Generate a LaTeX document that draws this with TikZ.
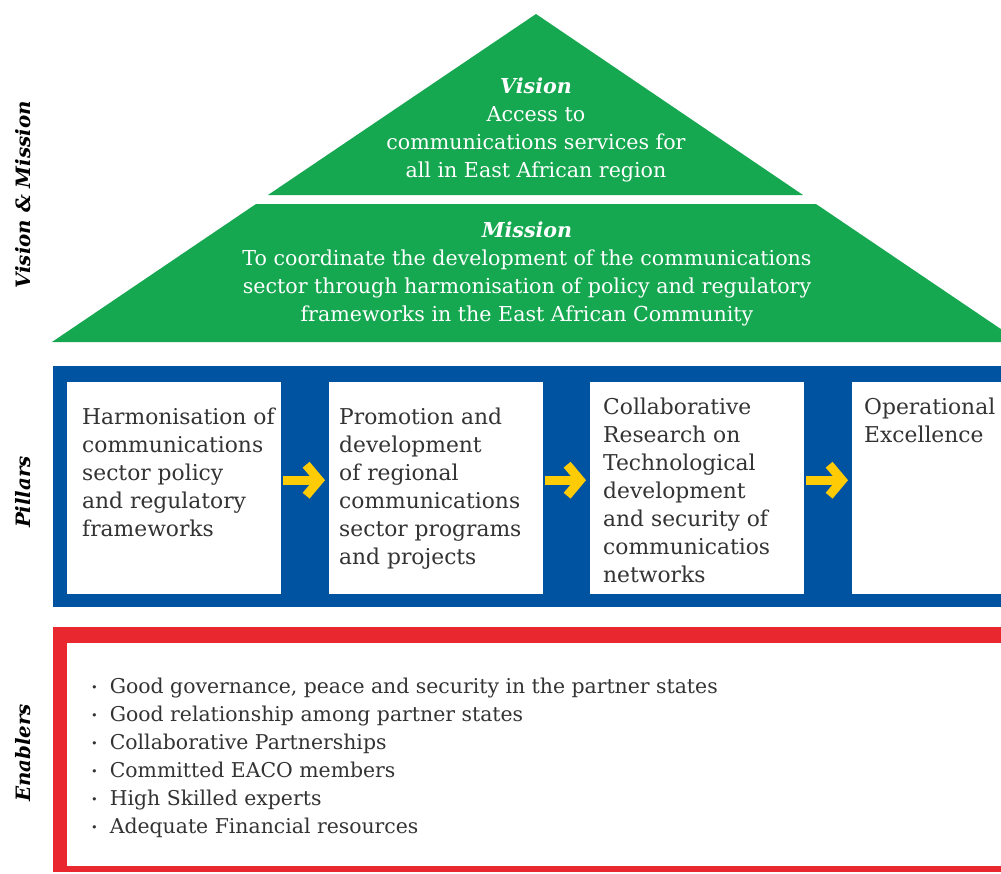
\documentclass[tikz,border=0pt]{standalone}
\usepackage{fontspec}
\setmainfont{DejaVu Serif}
\usetikzlibrary{positioning, arrows.meta}

\definecolor{eacogreen}{HTML}{16A850}
\definecolor{eacoblue}{HTML}{0053A1}
\definecolor{eacored}{HTML}{E8282E}
\definecolor{eacoyellow}{HTML}{FFCB05}
\definecolor{bodygray}{HTML}{333333}

\newcommand{\dotitem}{\raisebox{2pt}{\scalebox{0.55}{\textbullet}}\hspace{12pt}}

\begin{document}
\begin{tikzpicture}[x=1pt, y=-1pt,
          side/.style={rotate=90, font=\fontsize{19.8}{22}\selectfont\bfseries\itshape, text=black},
          pillar/.style={fill=white, minimum width=214pt, minimum height=212pt, anchor=north west, inner sep=0pt},
          pillartext/.style={anchor=north west, align=left, inner sep=0pt, text=bodygray, font=\fontsize{21.8}{28}\selectfont},
          roof/.style={align=center, text=white, font=\fontsize{20.6}{28}\selectfont},
          go/.style={draw=eacoyellow, line width=9pt, -{Straight Barb[length=13pt, width=31pt]}, shorten <=2pt, shorten >=4pt}
        ]
        \useasboundingbox (0,0) rectangle (1001,873);
        \clip (0,0) rectangle (1001,873);

        % roof: vision on top, mission below
        \fill[eacogreen] (536,14) -- (803,195) -- (268,195) -- cycle;
        \fill[eacogreen] (256,204) -- (816,204) -- (1020,342) -- (52,342) -- cycle;
        \node[roof] (vision) at (536,130) {{\bfseries\itshape Vision}\\Access to\\communications services for\\all in East African region};
        \node[roof] (mission) at (527,274) {{\bfseries\itshape Mission}\\To coordinate the development of the communications\\sector through harmonisation of policy and regulatory\\frameworks in the East African Community};

        % pillars
        \fill[eacoblue] (53,366) rectangle (1010,607);
        \foreach \i/\x in {1/67, 2/329, 3/590, 4/852}
          \node[pillar] (p\i) at (\x,382) {};
        \node[pillartext] (t1) at (82,408) {Harmonisation of\\communications\\sector policy\\and regulatory\\frameworks};
        \node[pillartext] (t2) at (339,408) {Promotion and\\development\\of regional\\communications\\sector programs\\and projects};
        \node[pillartext] (t3) at (603,398) {Collaborative\\Research on\\Technological\\development\\and security of\\communicatios\\networks};
        \node[pillartext] (t4) at (864,398) {Operational\\Excellence};
        \foreach \a/\b in {1/2, 2/3, 3/4}
          \draw[go] ([yshift=8pt]p\a.east) -- ([yshift=8pt]p\b.west);

        % enablers
        \fill[eacored] (53,627) rectangle (1010,872);
        \fill[white] (67,643) rectangle (1010,866);
        \node[pillartext, font=\fontsize{20.4}{28}\selectfont] (enablers) at (91,678) {\dotitem Good governance, peace and security in the partner states\\\dotitem Good relationship among partner states\\\dotitem Collaborative Partnerships\\\dotitem Committed EACO members\\\dotitem High Skilled experts\\\dotitem Adequate Financial resources};

        % row labels
        \node[side] (lvm) at (23,195) {Vision \& Mission};
        \node[side] (lp) at (23,492) {Pillars};
        \node[side] (le) at (23,753) {Enablers};
      \end{tikzpicture}
\end{document}
